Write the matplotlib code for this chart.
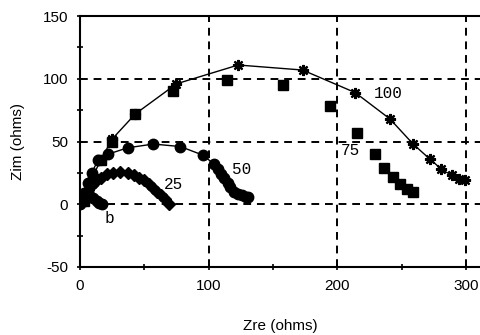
import numpy as np
import matplotlib.pyplot as plt
from matplotlib.ticker import MultipleLocator

plt.rcParams['font.family'] = ['Liberation Sans', 'DejaVu Sans']
plt.rcParams['axes.unicode_minus'] = False

# Nyquist data (Zre, Zim in ohms)
x100 = [2, 8, 16, 25, 43, 75, 123, 173, 214, 241, 259, 272, 281, 289, 295, 299]
y100 = [2, 18, 35, 52, 72, 96, 111, 107, 89, 68, 48, 36, 28, 23, 20, 19]

x75 = [3, 10, 16, 25, 43, 72, 114, 158, 194, 215, 229, 236, 243, 249, 254, 259]
y75 = [3, 20, 35, 50, 72, 90, 99, 95, 78, 57, 40, 29, 22, 16, 12, 10]

x50 = [1, 3, 6, 9, 14, 22, 37, 57, 78, 96, 104, 107, 110, 112, 115, 117,
       120, 123, 126, 129, 131]
y50 = [2, 9, 17, 25, 35, 40, 45, 48, 46, 39, 32, 28, 24, 21, 17, 14,
       10, 8, 7, 6, 6]

x25 = [1, 2, 4, 6, 9, 12, 16, 21, 26, 31, 37, 42, 46, 50, 54, 57, 60,
       63, 66, 69]
y25 = [1, 4, 8, 11, 15, 18, 21, 24, 25, 26, 25, 23, 21, 19, 16, 13, 10,
       7, 4, 0]

xb = [0, 1, 2, 3, 5, 7, 10, 13, 15, 17]
yb = [0, 3, 5, 6, 7, 7, 5, 3, 1, 0]

labels = ['100', '75', '50', '25', 'b']
label_x = [240, 210, 126, 73, 23]
label_y = [88, 43, 28, 16, -11]

fig = plt.figure(figsize=(4.8, 3.35), dpi=100)
ax = fig.add_axes([0.1667, 0.203, 0.8333, 0.749])

ax.plot(x100, y100, color='black', lw=1.0, marker=(8, 2, 0), ms=8, mew=1.6)
ax.plot(x75, y75, ls='none', color='black', marker='s', ms=7)
ax.plot(x50, y50, color='black', lw=1.0, marker='o', ms=7.5)
ax.plot(x25, y25, color='black', lw=1.0, marker='D', ms=6.5)
ax.plot(xb, yb, color='black', lw=1.0, marker='o', ms=7.5)

for t, lx, ly in zip(labels, label_x, label_y):
    ax.text(lx, ly, t, family='Liberation Mono', fontsize=11.5,
            ha='center', va='center')

ax.set_xlim(0, 311)
ax.set_ylim(-50, 150)
ax.xaxis.set_major_locator(MultipleLocator(100))
ax.xaxis.set_minor_locator(MultipleLocator(50))
ax.yaxis.set_major_locator(MultipleLocator(50))
ax.yaxis.set_minor_locator(MultipleLocator(25))

for v in [100, 200, 300]:
    ax.axvline(v, color='black', lw=1.4, ls=(0, (4, 3)), zorder=0)
for v in [0, 50, 100]:
    ax.axhline(v, color='black', lw=1.4, ls=(0, (4, 3)), zorder=0)

ax.spines['right'].set_visible(False)
for s in ['left', 'bottom', 'top']:
    ax.spines[s].set_linewidth(1.5)
ax.tick_params(which='both', direction='inout', length=5, width=1.2,
               labelsize=11, pad=6)

ax.set_xlabel('Zre (ohms)', fontsize=11, labelpad=19)
ax.set_ylabel('Zim (ohms)', fontsize=11, labelpad=13)

fig.savefig('out.png', dpi=100)
